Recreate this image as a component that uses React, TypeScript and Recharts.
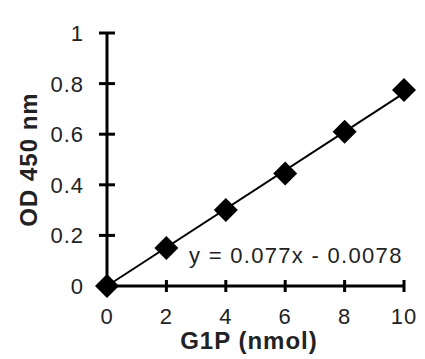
import React from "react";
import { ScatterChart, Scatter, XAxis, YAxis, Customized } from "recharts";

const X_VALUES = [0, 2, 4, 6, 8, 10];
const OD_VALUES = [0, 0.15, 0.3, 0.445, 0.61, 0.775];
const TREND_X = [0, 10];
const TREND_Y = [0, 0.7622];
const X_TICKS = [0, 2, 4, 6, 8, 10];
const Y_TICKS = [0, 0.2, 0.4, 0.6, 0.8, 1];
const EQUATION = "y = 0.077x - 0.0078";
const X_LABEL = "G1P (nmol)";
const Y_LABEL = "OD 450 nm";

const points = X_VALUES.map((x, i) => ({ x, y: OD_VALUES[i] }));
const trend = TREND_X.map((x, i) => ({ x, y: TREND_Y[i] }));

const FONT = "'Liberation Sans', Arial, sans-serif";
const TICK_SIZE = 8;
const Y_MARGIN = 15;
const X_MARGIN = 15;

const Diamond = (props: any) => {
  const { cx, cy } = props;
  if (cx == null || cy == null) return null;
  const r = 12;
  return (
    <polygon
      points={`${cx},${cy - r} ${cx + r},${cy} ${cx},${cy + r} ${cx - r},${cy}`}
      fill="#000"
    />
  );
};

const YTick = (props: any) => {
  const { x, y, payload } = props;
  const ax = x + Y_MARGIN + TICK_SIZE;
  return (
    <g>
      <line x1={ax - TICK_SIZE} x2={ax + TICK_SIZE} y1={y} y2={y} stroke="#000" strokeWidth={3} />
      <text x={x} y={y + 8} textAnchor="end" fontFamily={FONT} fontSize={22} fill="#222" letterSpacing={1}>
        {String(payload.value)}
      </text>
    </g>
  );
};

const XTick = (props: any) => {
  const { x, y, payload } = props;
  const ay = y - X_MARGIN - 7;
  return (
    <g>
      <line x1={x} x2={x} y1={ay - 6} y2={ay + 6} stroke="#000" strokeWidth={3} />
      <text x={x} y={y + 16} textAnchor="middle" fontFamily={FONT} fontSize={22} fill="#222" letterSpacing={1}>
        {String(payload.value)}
      </text>
    </g>
  );
};

const Labels = () => (
  <g>
    <text x={189} y={263} fontFamily={FONT} fontSize={22} fill="#222" letterSpacing={1.3}>
      {EQUATION}
    </text>
    <text x={249} y={349} textAnchor="middle" fontFamily={FONT} fontSize={24} fontWeight="bold" fill="#222" letterSpacing={1}>
      {X_LABEL}
    </text>
    <text
      x={28}
      y={159.5}
      textAnchor="middle"
      dominantBaseline="central"
      transform="rotate(-90, 28, 159.5)"
      fontFamily={FONT}
      fontSize={24}
      fontWeight="bold"
      fill="#222"
      letterSpacing={1}
    >
      {Y_LABEL}
    </text>
  </g>
);

export default function App() {
  return (
    <div style={{ position: "absolute", left: 0, top: 0, background: "#fff" }}>
      <ScatterChart
        width={425}
        height={359}
        margin={{ top: 33, right: 21, left: 47, bottom: 33 }}
      >
        <XAxis
          type="number"
          dataKey="x"
          domain={[0, 10]}
          ticks={X_TICKS}
          height={40}
          tickSize={7}
          tickMargin={X_MARGIN}
          tickLine={false}
          axisLine={{ stroke: "#000", strokeWidth: 3 }}
          tick={<XTick />}
          interval={0}
        />
        <YAxis
          type="number"
          dataKey="y"
          domain={[0, 1]}
          ticks={Y_TICKS}
          width={60}
          tickSize={TICK_SIZE}
          tickMargin={Y_MARGIN}
          tickLine={false}
          axisLine={{ stroke: "#000", strokeWidth: 3 }}
          tick={<YTick />}
          interval={0}
        />
        <Scatter
          data={trend}
          line={{ stroke: "#000", strokeWidth: 2 }}
          shape={() => null}
          isAnimationActive={false}
        />
        <Scatter data={points} shape={<Diamond />} isAnimationActive={false} />
        <Customized component={Labels} />
      </ScatterChart>
    </div>
  );
}
